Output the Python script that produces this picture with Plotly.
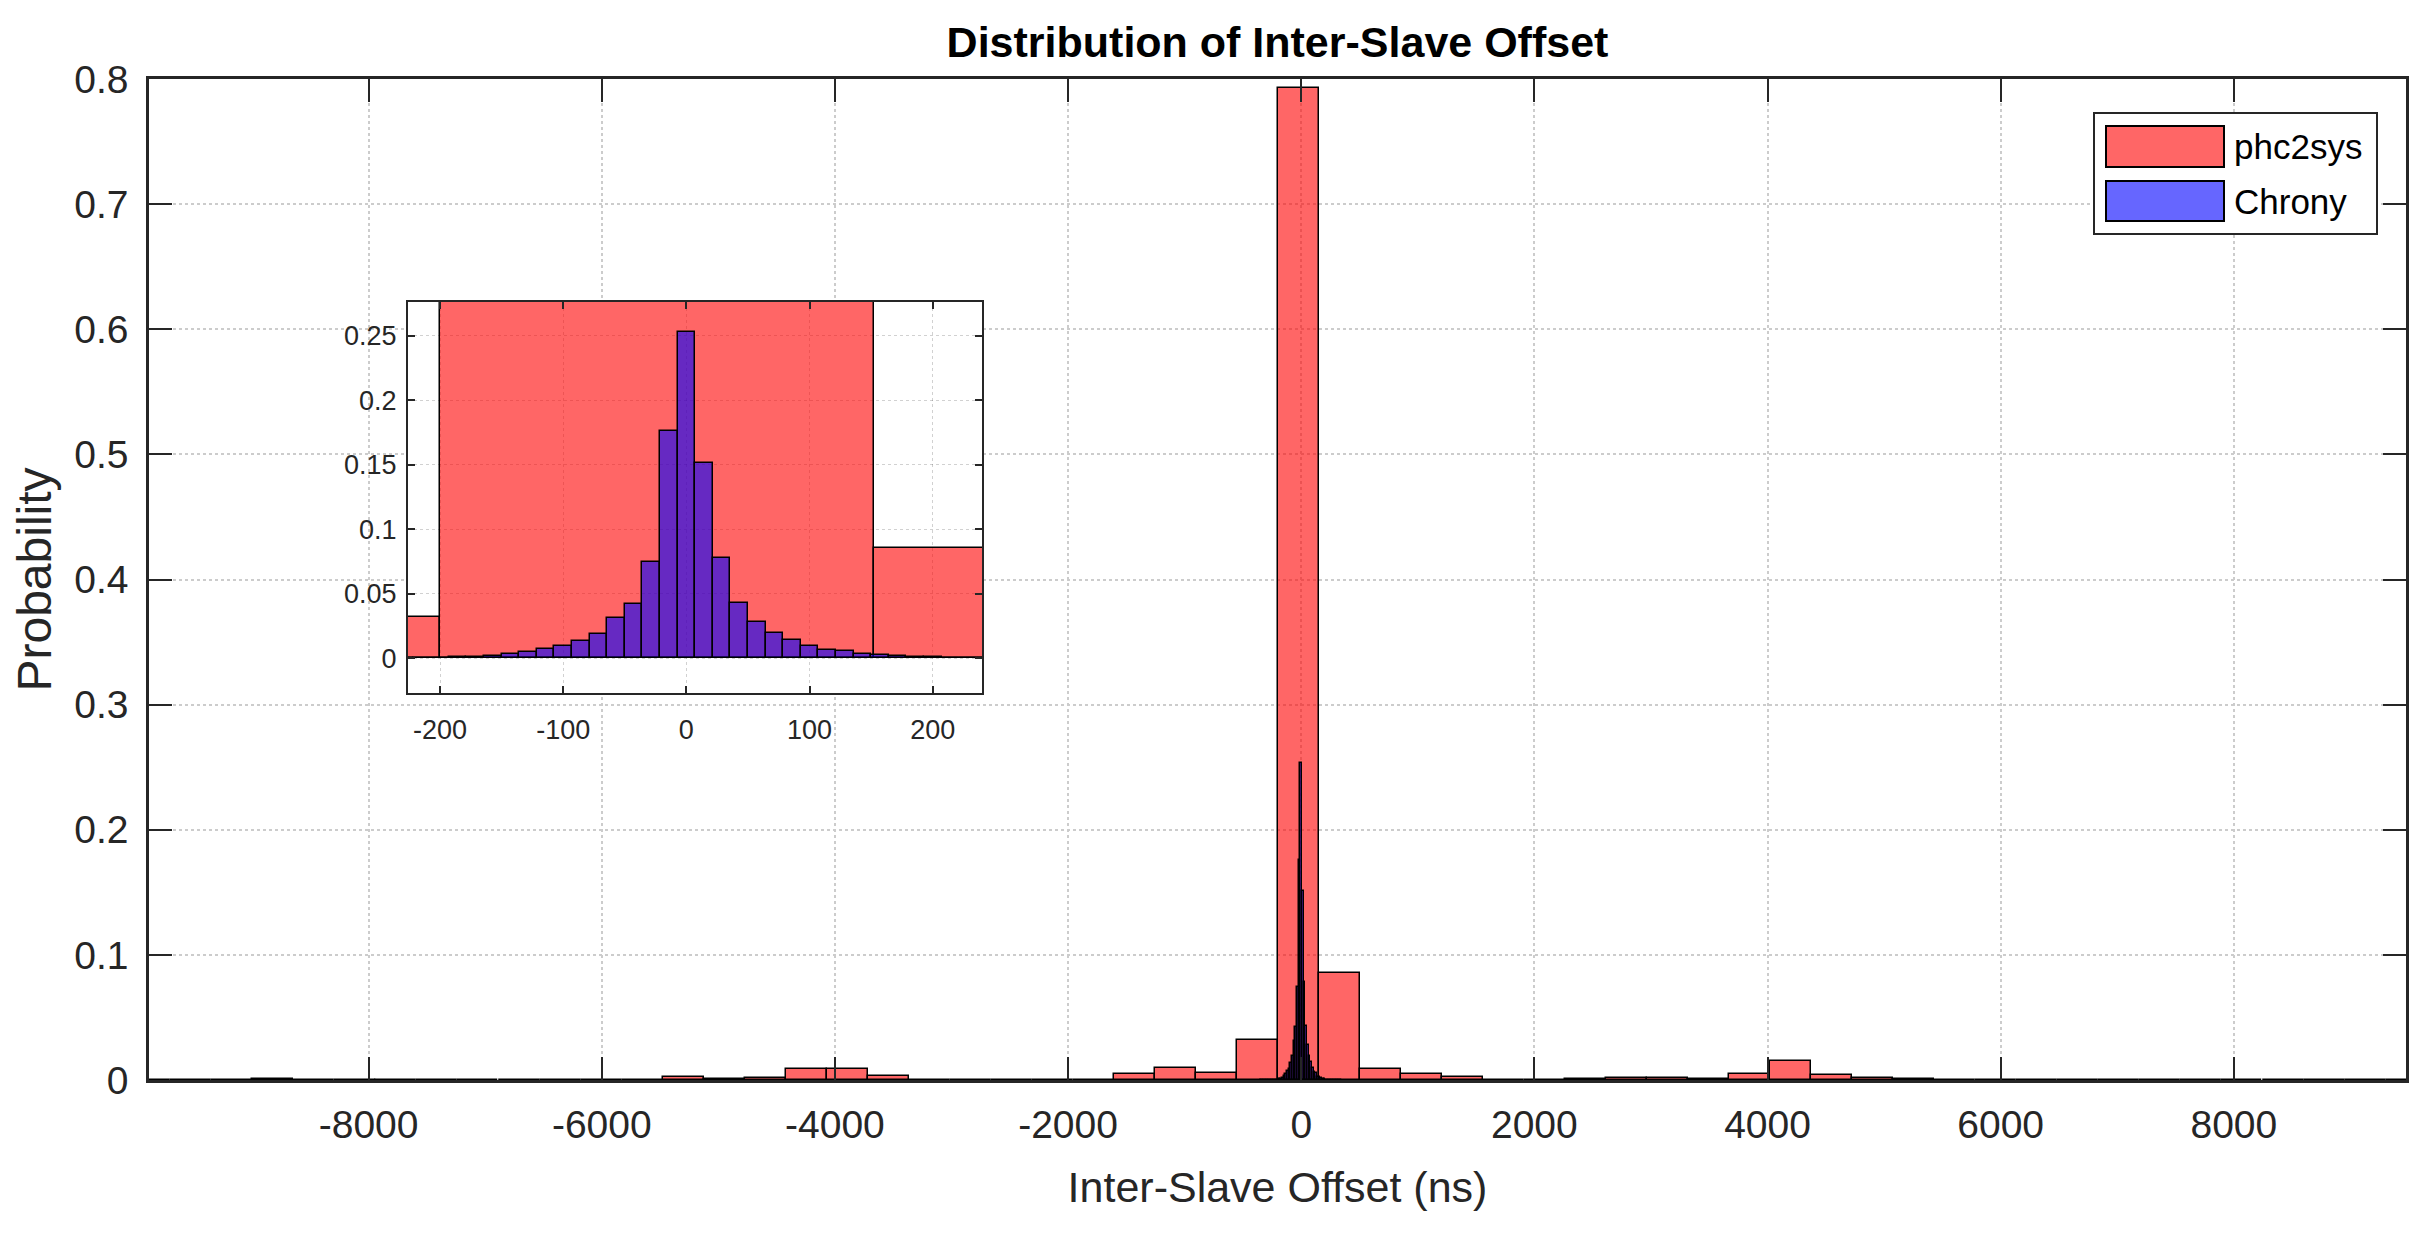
import plotly.graph_objects as go

# ---------------- data ----------------
phc_bin_width = 351.9
phc_centers = [-9877, -9525, -9173, -8821, -8469, -8117, -7766, -7414, -7062, -6710,
               -6358, -6006, -5654, -5302, -4950, -4598, -4247, -3895, -3543, -3191,
               -2839, -2487, -2135, -1783, -1431, -1079, -728, -376, -24, 328,
               680, 1032, 1384, 1736, 2088, 2440, 2791, 3143, 3495, 3847,
               4199, 4551, 4903, 5255, 5607, 5959, 6310, 6662, 7014, 7366,
               7718, 8070, 8422, 8774, 9126, 9478]
phc_prob = [0.0002, 0.0001, 0.0001, 0.0005, 0.0003, 0.0003, 0.0002, 0.0002, 0.0002, 0.0002,
            0.0002, 0.0002, 0.0004, 0.0021, 0.0008, 0.0019, 0.0090, 0.0090, 0.0032, 0.0003,
            0.0002, 0.0002, 0.0002, 0.0002, 0.0050, 0.0096, 0.0053, 0.0322, 0.7928, 0.0858,
            0.0090, 0.0045, 0.0027, 0.0003, 0.0002, 0.0005, 0.0013, 0.0020, 0.0009, 0.0050,
            0.0152, 0.0040, 0.0020, 0.0008, 0.0003, 0.0002, 0.0002, 0.0002, 0.0002, 0.0002,
            0.0002, 0.0003, 0.0003, 0.0001, 0.0001, 0.0002]

chrony_bin_width = 14.29
chrony_centers = [-343.0, -328.7, -314.4, -300.1, -285.8, -271.5, -257.2, -242.9, -228.6, -214.4,
                  -200.1, -185.8, -171.5, -157.2, -142.9, -128.6, -114.3, -100.0, -85.7, -71.5,
                  -57.2, -42.9, -28.6, -14.3, 0.0, 14.3, 28.6, 42.9, 57.2, 71.5,
                  85.7, 100.0, 114.3, 128.6, 142.9, 157.2, 171.5, 185.8, 200.1, 214.4,
                  228.6, 242.9, 257.2, 271.5, 285.8, 300.1, 314.4, 328.7, 343.0]
chrony_prob = [0.0001, 0.0001, 0.0001, 0.0001, 0.0002, 0.0002, 0.0002, 0.0002, 0.0003, 0.0003,
               0.0004, 0.0005, 0.0008, 0.0020, 0.0032, 0.0044, 0.0070, 0.0090, 0.0134, 0.0190,
               0.0308, 0.0422, 0.0746, 0.1760, 0.2534, 0.1510, 0.0780, 0.0428, 0.0281, 0.0195,
               0.0140, 0.0092, 0.0063, 0.0052, 0.0028, 0.0022, 0.0013, 0.0008, 0.0005, 0.0003,
               0.0002, 0.0002, 0.0002, 0.0001, 0.0001, 0.0001, 0.0001, 0.0001, 0.0001]

series_names = ["phc2sys", "Chrony"]

main_xticks = [-8000, -6000, -4000, -2000, 0, 2000, 4000, 6000, 8000]
main_yticks = [0, 0.1, 0.2, 0.3, 0.4, 0.5, 0.6, 0.7, 0.8]
inset_xticks = [-200, -100, 0, 100, 200]
inset_yticks = [0, 0.05, 0.1, 0.15, 0.2, 0.25]

title_text = "Distribution of Inter-Slave Offset"
xlabel_text = "Inter-Slave Offset (ns)"
ylabel_text = "Probability"

# ---------------- style / layout ----------------
FONT = "Liberation Sans, Arial, sans-serif"
RED = "rgba(255,0,0,0.6)"
BLUE = "rgba(0,0,255,0.6)"
AX = "#262626"
GRID = "#cccccc"

OFF = 8                       # page body margin
W, H = 2428 - OFF, 1235 - OFF
PL, PT, PR, PB = 149, 79, 2406, 1080   # plot box in page pixels
PW, PH = PR - PL, PB - PT
ML, MT = PL - OFF, PT - OFF
MR, MB = W - ML - PW, H - MT - PH


def px_x(p):
    return (p - PL) / PW


def px_y(p):
    return (PB - p) / PH


def fmt(v):
    return "%g" % v


fig = go.Figure()

for xa, ya in [("x", "y"), ("x2", "y2")]:
    fig.add_trace(go.Bar(x=phc_centers, y=phc_prob, width=phc_bin_width,
                         marker=dict(color=RED, line=dict(color="black", width=1.5)),
                         name=series_names[0], xaxis=xa, yaxis=ya, showlegend=False))
    fig.add_trace(go.Bar(x=chrony_centers, y=chrony_prob, width=chrony_bin_width,
                         marker=dict(color=BLUE, line=dict(color="black", width=1.5)),
                         name=series_names[1], xaxis=xa, yaxis=ya, showlegend=False))

common_main = dict(ticks="inside", ticklen=23, tickwidth=2, tickcolor=AX,
                   showline=True, linewidth=2.5, linecolor=AX, mirror="ticks",
                   showgrid=True, gridcolor=GRID, griddash="dot", gridwidth=1.5,
                   zeroline=False, tickfont=dict(family=FONT, size=39, color=AX))
common_inset = dict(ticks="inside", ticklen=7, tickwidth=1.5, tickcolor=AX,
                    showline=True, linewidth=2, linecolor=AX, mirror="ticks",
                    showgrid=True, gridcolor="rgba(0,0,0,0.18)", griddash="dot", gridwidth=1.2,
                    zeroline=False, tickfont=dict(family=FONT, size=27, color=AX))

fig.update_layout(
    width=W, height=H, autosize=False,
    margin=dict(l=ML, r=MR, t=MT, b=MB, pad=0),
    paper_bgcolor="white", plot_bgcolor="white",
    barmode="overlay", bargap=0,
    showlegend=False,
    title=dict(text=title_text, x=0.5, xref="paper", xanchor="center",
               y=1 - (42 - OFF) / H, yref="container", yanchor="middle",
               font=dict(family=FONT, size=43, color="black", weight="bold")),
    xaxis=dict(range=[-9884, 9477], tickvals=main_xticks,
               ticktext=[str(v) for v in main_xticks], ticklabelstandoff=8,
               title=dict(text=xlabel_text, font=dict(family=FONT, size=43, color=AX),
                          standoff=28),
               **common_main),
    yaxis=dict(range=[0, 0.8], tickvals=main_yticks,
               ticktext=[fmt(v) for v in main_yticks], ticklabelstandoff=10,
               title=dict(text=ylabel_text, font=dict(family=FONT, size=48, color=AX),
                          standoff=10),
               **common_main),
    xaxis2=dict(domain=[px_x(408), px_x(982)], anchor="y2", range=[-226, 240],
                tickvals=inset_xticks, ticktext=[str(v) for v in inset_xticks],
                ticklabelstandoff=12, **common_inset),
    yaxis2=dict(domain=[px_y(693), px_y(302)], anchor="x2", range=[-0.0271, 0.2763],
                tickvals=inset_yticks, ticktext=[fmt(v) for v in inset_yticks],
                ticklabelstandoff=4, **common_inset),
)

# ---------------- legend (drawn box) ----------------
shapes = [dict(type="rect", xref="paper", yref="paper",
               x0=px_x(2094), x1=px_x(2377), y0=px_y(234), y1=px_y(113),
               fillcolor="white", line=dict(color=AX, width=2), layer="above")]
annots = []
legend_rows = [(126, 167, RED), (181, 221, BLUE)]
for (top, bot, col), name in zip(legend_rows, series_names):
    shapes.append(dict(type="rect", xref="paper", yref="paper",
                       x0=px_x(2106), x1=px_x(2224), y0=px_y(bot), y1=px_y(top),
                       fillcolor=col, line=dict(color="black", width=2), layer="above"))
    annots.append(dict(text=name, xref="paper", yref="paper",
                       x=px_x(2232), y=px_y((top + bot) / 2), xanchor="left", yanchor="middle",
                       showarrow=False, font=dict(family=FONT, size=35, color="black")))
fig.update_layout(shapes=shapes, annotations=annots)

fig.write_html("out.html")
